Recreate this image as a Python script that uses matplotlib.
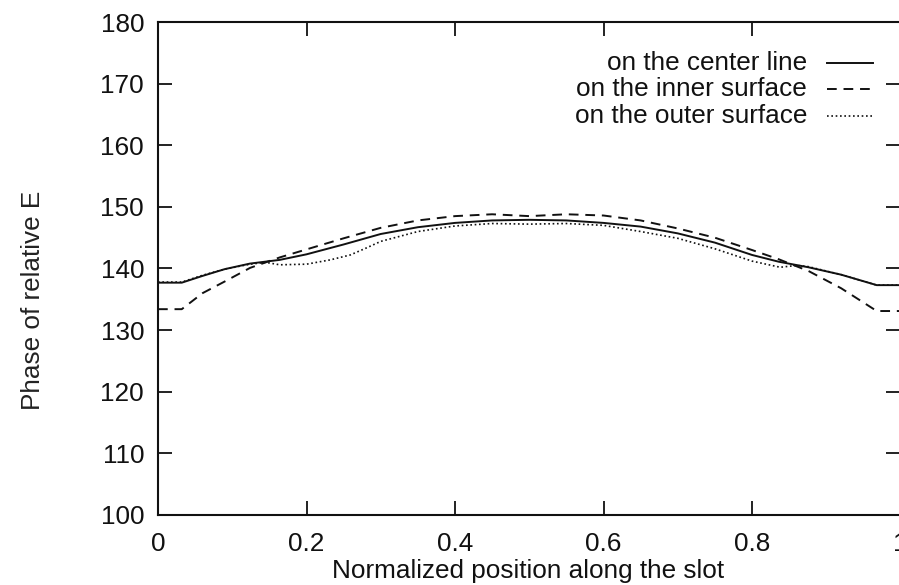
import matplotlib
matplotlib.use("Agg")
import matplotlib.pyplot as plt

plt.rcParams['font.family'] = ['Liberation Sans', 'DejaVu Sans']

# Data
x_center = [0.0, 0.032, 0.06, 0.09, 0.124, 0.164, 0.2, 0.25, 0.3, 0.35, 0.4, 0.45, 0.5,
            0.55, 0.6, 0.65, 0.7, 0.75, 0.8, 0.836, 0.876, 0.92, 0.968, 1.0]
y_center = [137.7, 137.7, 138.8, 139.9, 140.8, 141.4, 142.3, 143.9, 145.6, 146.7, 147.4, 147.8, 147.9,
            147.8, 147.4, 146.8, 145.7, 144.2, 142.2, 141.1, 140.2, 139.0, 137.3, 137.3]

x_inner = [0.0, 0.032, 0.06, 0.09, 0.124, 0.164, 0.2, 0.25, 0.3, 0.35, 0.4, 0.45, 0.5,
           0.55, 0.6, 0.65, 0.7, 0.75, 0.8, 0.836, 0.876, 0.92, 0.968, 1.0]
y_inner = [133.4, 133.4, 136.0, 137.9, 140.1, 141.8, 143.1, 144.9, 146.6, 147.8, 148.5, 148.8, 148.5,
           148.8, 148.6, 147.8, 146.5, 145.0, 143.0, 141.5, 139.6, 136.8, 133.1, 133.1]

x_outer = [0.0, 0.032, 0.06, 0.09, 0.124, 0.145, 0.164, 0.2, 0.232, 0.259, 0.28, 0.3, 0.35, 0.4, 0.45, 0.5,
           0.55, 0.6, 0.65, 0.7, 0.75, 0.8, 0.838, 0.86, 0.876, 0.92, 0.968, 1.0]
y_outer = [137.8, 137.8, 138.9, 139.9, 140.7, 141.0, 140.6, 140.7, 141.4, 142.2, 143.3, 144.4, 146.0, 146.9, 147.3, 147.2,
           147.3, 147.0, 146.0, 144.9, 143.2, 141.2, 140.2, 140.5, 140.3, 139.0, 137.3, 137.3]

labels = ["on the center line", "on the inner surface", "on the outer surface"]
xticks = [0, 0.2, 0.4, 0.6, 0.8, 1]
xticklabels = ["0", "0.2", "0.4", "0.6", "0.8", "1"]
yticks = [100, 110, 120, 130, 140, 150, 160, 170, 180]

W, H = 899, 585
fig = plt.figure(figsize=(W / 100, H / 100), dpi=100)
left, right, top, bottom = 158, 900.5, 22, 515
ax = fig.add_axes([left / W, 1 - bottom / H, (right - left) / W, (bottom - top) / H])

col = '#111111'
fs = 18.8
styles = [
    dict(lw=1.4, ls='-'),
    dict(lw=1.4, ls=(0, (5, 3.5))),
    dict(lw=1.2, ls=(0, (1, 1.6))),
]
series = [(x_center, y_center), (x_inner, y_inner), (x_outer, y_outer)]
for (xs, ys), st in zip(series, styles):
    ax.plot(xs, ys, color=col, lw=st['lw'], linestyle=st['ls'])

ax.set_xlim(0, 1)
ax.set_ylim(100, 180)
ax.set_xticks(xticks)
ax.set_xticklabels(xticklabels)
ax.set_yticks(yticks)
ax.tick_params(direction='in', length=10, width=1.3, top=True, right=True,
               labelsize=fs, colors=col)
ax.tick_params(axis='y', pad=10)
ax.tick_params(axis='x', pad=12)
for s in ax.spines.values():
    s.set_linewidth(1.5)
    s.set_color(col)

fig.text(33 / W, 1 - 300 / H, "Phase of relative E", rotation=90, ha='center', va='center',
         fontsize=fs, color='#222222')
fig.text(528 / W, 1 - 571 / H, "Normalized position along the slot", ha='center', va='center',
         fontsize=fs, color=col)

# gnuplot-style key: right-aligned text with sample line to the right
rows_y = [63, 89, 116]
for lbl, ly, st in zip(labels, rows_y, styles):
    yf = 1 - ly / H
    fig.text(807 / W, yf, lbl, ha='right', va='center', fontsize=fs, color=col)
    fig.add_artist(plt.Line2D([827 / W, 873 / W], [yf, yf], transform=fig.transFigure,
                              color=col, lw=st['lw'], linestyle=st['ls']))

fig.savefig("out.png", dpi=100)
